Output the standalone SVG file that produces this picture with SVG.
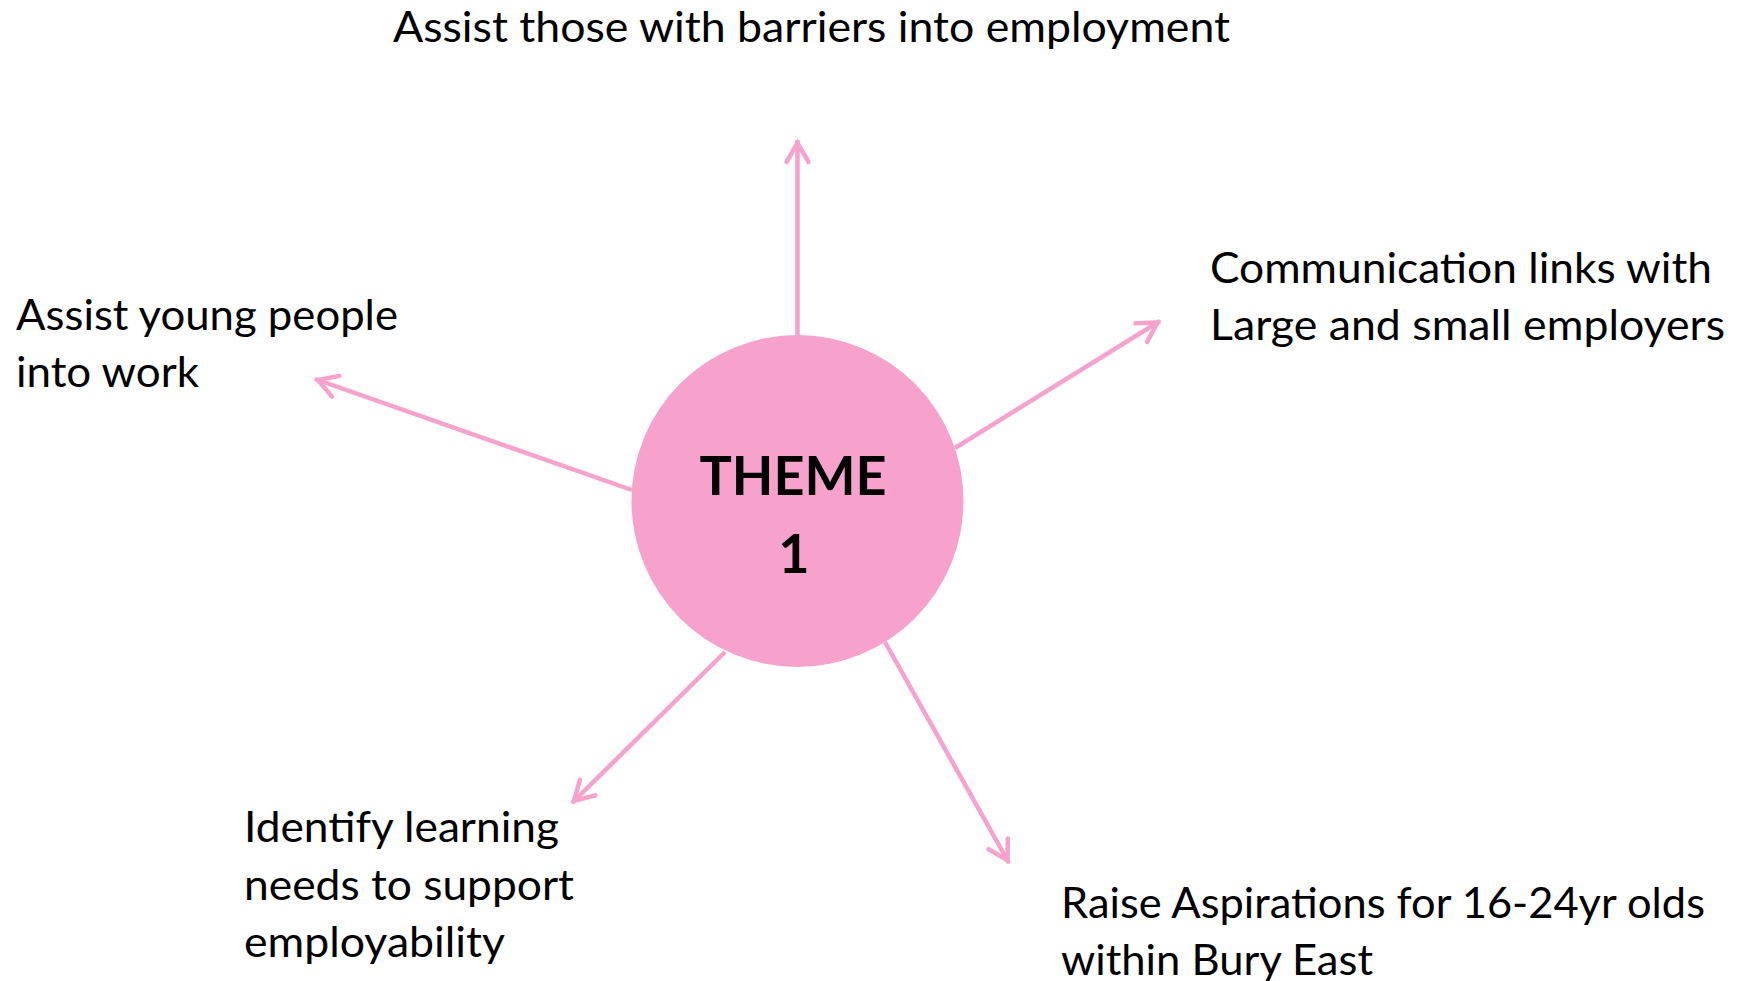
<svg xmlns="http://www.w3.org/2000/svg" width="1742" height="981" viewBox="0 0 1742 981">
<style>
.lbl{font-family:Lato,"Open Sans","Liberation Sans",sans-serif;font-size:43px;fill:#000}
.ttl{font-family:Lato,"Open Sans","Liberation Sans",sans-serif;font-size:54px;font-weight:bold;fill:#000;text-anchor:middle}
.con{stroke:#F7A1CD;stroke-width:4.5;fill:none}
</style>
<defs>
<marker id="arr" markerUnits="userSpaceOnUse" markerWidth="40" markerHeight="40" viewBox="-30 -20 40 40" refX="0" refY="0" orient="auto">
<path d="M-22,-11 L-3,0 L-22,11" fill="none" stroke="#F7A1CD" stroke-width="4.5" stroke-linecap="round" stroke-linejoin="miter"/>
</marker>
</defs>
<rect width="1742" height="981" fill="#fff"/>
<g id="connectors">
<line class="con" x1="797.5" y1="336" x2="797.5" y2="140" marker-end="url(#arr)"/>
<line class="con" x1="955" y1="448" x2="1160" y2="321" marker-end="url(#arr)"/>
<line class="con" x1="632" y1="490" x2="315" y2="379" marker-end="url(#arr)"/>
<line class="con" x1="725" y1="652" x2="572" y2="803" marker-end="url(#arr)"/>
<line class="con" x1="885" y1="642" x2="1009" y2="863" marker-end="url(#arr)"/>
</g>
<g id="theme1">
<circle cx="797.5" cy="501" r="166" fill="#F7A1CD"/>
<text class="ttl" x="793" y="495">THEME</text>
<text class="ttl" x="794" y="573">1</text>
</g>
<g id="barriers">
<text class="lbl" x="393" y="42" textLength="837" lengthAdjust="spacingAndGlyphs">Assist those with barriers into employment</text>
</g>
<g id="communication">
<text class="lbl" x="1210" y="283" textLength="502" lengthAdjust="spacingAndGlyphs">Communication links with</text>
<text class="lbl" x="1210" y="340" textLength="515" lengthAdjust="spacingAndGlyphs">Large and small employers</text>
</g>
<g id="young">
<text class="lbl" x="16" y="330" textLength="382" lengthAdjust="spacingAndGlyphs">Assist young people</text>
<text class="lbl" x="16" y="387" textLength="183" lengthAdjust="spacingAndGlyphs">into work</text>
</g>
<g id="learning">
<text class="lbl" x="244" y="842" textLength="315" lengthAdjust="spacingAndGlyphs">Identify learning</text>
<text class="lbl" x="244" y="900" textLength="330" lengthAdjust="spacingAndGlyphs">needs to support</text>
<text class="lbl" x="244" y="957" textLength="261" lengthAdjust="spacingAndGlyphs">employability</text>
</g>
<g id="aspirations">
<text class="lbl" x="1061" y="918" textLength="644" lengthAdjust="spacingAndGlyphs">Raise Aspirations for 16-24yr olds</text>
<text class="lbl" x="1061" y="975" textLength="312" lengthAdjust="spacingAndGlyphs">within Bury East</text>
</g>
</svg>
